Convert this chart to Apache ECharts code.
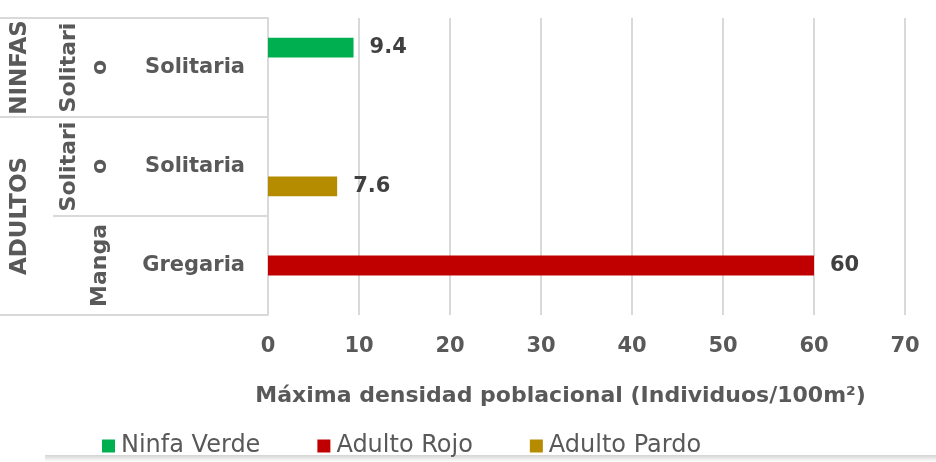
<!DOCTYPE html>
<html>
<head>
<meta charset="utf-8">
<script src="https://cdn.jsdelivr.net/npm/echarts@6/dist/echarts.min.js"></script>
<style>
  html, body { margin: 0; padding: 0; background: #fff; }
  #chart { width: 936px; height: 462px; }
</style>
</head>
<body>
<div id="chart"></div>
<script>
// categorias (tres niveles, de arriba hacia abajo)
var categories = ['Solitaria', 'Solitaria', 'Gregaria'];
var subGroups = ['Solitario', 'Solitario', 'Manga'];
var groupOf = ['NINFAS', 'ADULTOS', 'ADULTOS'];

// series
var seriesNames = ['Ninfa Verde', 'Adulto Rojo', 'Adulto Pardo'];
var ninfaVerde = [9.4, null, null];
var adultoRojo = [null, null, 60];
var adultoPardo = [null, 7.6, null];
var colors = ['#00b050', '#c00000', '#b58c00'];

var xTicks = [0, 10, 20, 30, 40, 50, 60, 70];

// rangos de cada grupo del primer nivel
var groupSpans = [];
groupOf.forEach(function (g, i) {
    var last = groupSpans[groupSpans.length - 1];
    if (last && last.name === g) {
        last.end = i + 1;
    } else {
        groupSpans.push({ name: g, start: i, end: i + 1 });
    }
});
var groupBounds = [0];
var groupCenters = [];
groupSpans.forEach(function (s) {
    groupBounds.push(s.end);
    groupCenters.push((s.start + s.end) / 2);
});

var gray = '#595959';
var lineColor = '#d9d9d9';
var font = 'DejaVu Sans';

var myChart = echarts.init(document.getElementById('chart'));

var option = {
    animation: false,
    textStyle: { fontFamily: font },
    grid: { left: 268, right: 31, top: 18, bottom: 147, outerBoundsMode: 'none', containLabel: false },
    legend: {
        data: seriesNames,
        left: 97,
        top: 429,
        itemWidth: 13,
        itemHeight: 13,
        itemGap: 57,
        icon: 'rect',
        textStyle: { fontFamily: font, fontSize: 24, color: gray, padding: [0, 0, 0, 1] }
    },
    xAxis: {
        type: 'value',
        min: xTicks[0],
        max: xTicks[xTicks.length - 1],
        interval: 10,
        axisLine: { show: false },
        axisTick: { show: false },
        splitLine: { lineStyle: { color: lineColor, width: 2 } },
        axisLabel: { fontFamily: font, fontSize: 21, fontWeight: 'bold', color: gray, margin: 21 },
        name: 'Máxima densidad poblacional (Individuos/100m²)',
        nameLocation: 'middle',
        nameGap: 70,
        nameTextStyle: {
            fontFamily: font, fontSize: 22, fontWeight: 'bold', color: gray,
            padding: [0, 52, 0, 0]
        }
    },
    yAxis: [
        {
            type: 'category',
            position: 'left',
            data: categories,
            inverse: true,
            axisLine: { show: true, lineStyle: { color: lineColor, width: 2 } },
            axisTick: { show: true, length: 215, lineStyle: { color: lineColor, width: 2 } },
            axisLabel: { fontFamily: font, fontSize: 21, fontWeight: 'bold', color: gray, margin: 23 }
        },
        {
            type: 'category',
            position: 'left',
            offset: 0,
            data: subGroups,
            inverse: true,
            axisLine: { show: false },
            axisTick: { show: false },
            axisLabel: {
                interval: 0,
                fontFamily: font, fontSize: 22, fontWeight: 'bold', color: gray,
                rotate: 90, margin: 152, width: 96, overflow: 'breakAll', lineHeight: 31
            }
        },
        {
            type: 'value',
            position: 'left',
            offset: 0,
            min: 0,
            max: categories.length,
            inverse: true,
            splitLine: { show: false },
            axisLine: { show: false },
            axisTick: { show: true, customValues: groupBounds, length: 268, lineStyle: { color: lineColor, width: 2 } },
            axisLabel: {
                customValues: groupCenters,
                fontFamily: font, fontSize: 23, fontWeight: 'bold', color: gray,
                rotate: 90, margin: 236,
                formatter: function (v) {
                    var i = groupCenters.indexOf(v);
                    return i >= 0 ? groupSpans[i].name : '';
                }
            }
        }
    ],
    graphic: [{
        type: 'rect',
        left: 45, top: 455,
        shape: { width: 891, height: 7 },
        style: {
            fill: new echarts.graphic.LinearGradient(0, 0, 0, 1, [
                { offset: 0, color: '#d4d4d4' },
                { offset: 1, color: '#ffffff' }
            ])
        },
        silent: true
    }],
    series: [ninfaVerde, adultoRojo, adultoPardo].map(function (d, i) {
        return {
            name: seriesNames[i],
            type: 'bar',
            yAxisIndex: 0,
            data: d,
            barGap: '0%',
            barCategoryGap: '40%',
            itemStyle: { color: colors[i] },
            label: {
                show: true,
                position: 'right',
                distance: 16,
                fontFamily: font,
                fontSize: 21,
                fontWeight: 'bold',
                color: '#404040'
            }
        };
    })
};

myChart.setOption(option);
</script>
</body>
</html>
